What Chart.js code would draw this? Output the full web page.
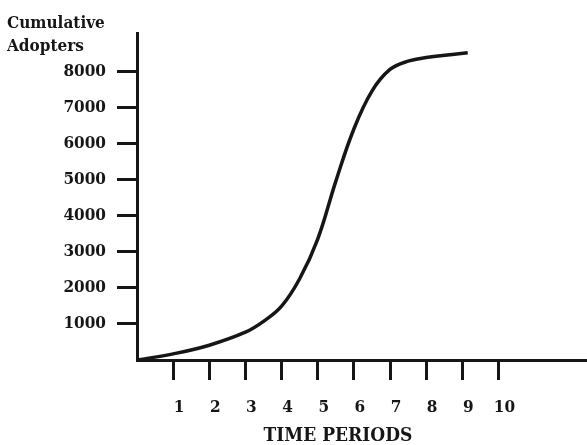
<!DOCTYPE html>
<html lang="en">
  <head>
    <meta charset="UTF-8" />
    <title>Cumulative Adopters</title>
    <style>
      * {
        box-sizing: border-box;
        margin: 0;
        padding: 0;
      }
      body,
      html {
        width: 100%;
        height: 100%;
        background-color: white;
      }
      .chart__container {
        position: relative;
        width: 587px;
        height: 445px;
      }
    </style>
  </head>
  <body>
    <div class="chart__container">
      <canvas id="adoptersChart"></canvas>
    </div>
    <script src="https://cdn.jsdelivr.net/npm/chart.js"></script>
    <script>
      // values
      const periods = [0, 1, 2, 3, 3.5, 4, 4.5, 5, 5.5, 6, 6.5, 7, 7.5, 8, 9.15];
      const adopters = [0, 170, 410, 770, 1070, 1490, 2250, 3350, 4950, 6400, 7450, 8050, 8280, 8380, 8510];
      const periodTicks = [1, 2, 3, 4, 5, 6, 7, 8, 9, 10];
      const adopterTicks = [1000, 2000, 3000, 4000, 5000, 6000, 7000, 8000];
      const yTitle = ["Cumulative", "Adopters"];
      const xTitle = "TIME PERIODS";

      const serif = "'DejaVu Serif Condensed', 'DejaVu Serif', serif";
      const ink = "#161616";

      // axis titles sit where the original put them, not where Chart.js would
      const titlePlugin = {
        id: "handTitles",
        afterDraw(chart) {
          const ctx = chart.ctx;
          ctx.save();
          ctx.fillStyle = ink;
          ctx.font = "bold 17px " + serif;
          ctx.textAlign = "left";
          ctx.textBaseline = "alphabetic";
          ctx.fillText(yTitle[0], 7, 28);
          ctx.fillText(yTitle[1], 7, 51);
          ctx.font = "bold 19px " + serif;
          ctx.textAlign = "center";
          ctx.fillText(xTitle, 338, 441);
          ctx.restore();
        },
      };

      const ctx = document.getElementById("adoptersChart").getContext("2d");
      new Chart(ctx, {
        type: "line",
        data: {
          datasets: [
            {
              data: periods.map((p, i) => ({ x: p, y: adopters[i] })),
              borderColor: ink,
              borderWidth: 3.5,
              pointRadius: 0,
              tension: 0.4,
              fill: false,
            },
          ],
        },
        plugins: [titlePlugin],
        options: {
          responsive: true,
          maintainAspectRatio: false,
          animation: false,
          layout: { padding: { top: 33, right: 0, left: 0, bottom: 0 } },
          plugins: {
            legend: { display: false },
            tooltip: { enabled: false },
          },
          scales: {
            x: {
              type: "linear",
              min: 0,
              max: 12.45,
              afterBuildTicks: (scale) => {
                scale.ticks = periodTicks.map((v) => ({ value: v }));
              },
              afterFit: (scale) => {
                scale.height = 85;
              },
              border: { display: true, color: ink, width: 3 },
              grid: {
                drawOnChartArea: false,
                drawTicks: true,
                tickLength: 20,
                tickWidth: 3,
                tickColor: ink,
              },
              ticks: {
                color: ink,
                padding: 17,
                labelOffset: 6,
                maxRotation: 0,
                autoSkip: false,
                callback: (v) => String(v),
                font: { family: serif, size: 17, weight: "bold" },
              },
            },
            y: {
              min: 0,
              max: 9060,
              afterBuildTicks: (scale) => {
                scale.ticks = adopterTicks.map((v) => ({ value: v }));
              },
              afterFit: (scale) => {
                scale.width = 137;
              },
              border: { display: true, color: ink, width: 3 },
              grid: {
                drawOnChartArea: false,
                drawTicks: true,
                tickLength: 20,
                tickWidth: 3,
                tickColor: ink,
              },
              ticks: {
                color: ink,
                padding: 11,
                autoSkip: false,
                callback: (v) => String(v),
                font: { family: serif, size: 17, weight: "bold" },
              },
            },
          },
        },
      });
    </script>
  </body>
</html>
